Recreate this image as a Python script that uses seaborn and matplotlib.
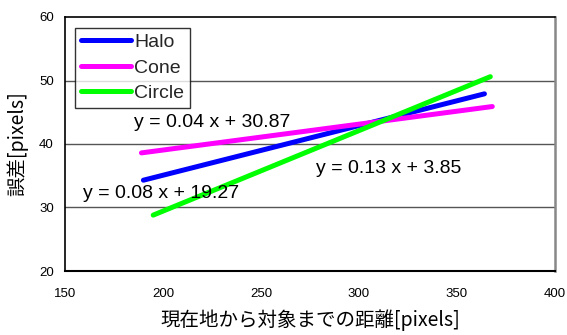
import matplotlib
matplotlib.use("Agg")
import matplotlib.pyplot as plt
import seaborn as sns
import pandas as pd

# ---- data ----
series = ["Halo", "Cone", "Circle"]
x_start = [190, 189, 195]
x_end = [364, 368, 367]
y_start = [34.3, 38.6, 28.8]
y_end = [47.9, 45.9, 50.6]
colors = ["#0000FF", "#FF00FF", "#00FF00"]
equations = ["y = 0.08 x + 19.27", "y = 0.04 x + 30.87", "y = 0.13 x + 3.85"]
eq_x = [159, 185, 278]
eq_y = [32.2, 43.4, 36.2]
x_ticks = [150, 200, 250, 300, 350, 400]
y_ticks = [20, 30, 40, 50, 60]
x_label = "現在地から対象までの距離[pixels]"
y_label = "誤差[pixels]"

rows = []
for s, xs, xe, ys, ye in zip(series, x_start, x_end, y_start, y_end):
    rows.append({"series": s, "x": xs, "y": ys})
    rows.append({"series": s, "x": xe, "y": ye})
df = pd.DataFrame(rows)

sns.set_theme(style="white")
plt.rcParams["font.family"] = ["Liberation Sans", "Noto Sans CJK JP", "DejaVu Sans"]

fig = plt.figure(figsize=(5.67, 3.35), dpi=100)
ax = fig.add_axes([65 / 567, 1 - 271 / 335, 490 / 567, 254 / 335])

sns.lineplot(data=df, x="x", y="y", hue="series", hue_order=series,
             palette=colors, linewidth=3.6, ax=ax, legend=True,
             solid_capstyle="round")

ax.set_xlim(150, 400)
ax.set_ylim(20, 60)
ax.set_xticks(x_ticks)
ax.set_yticks(y_ticks)
ax.tick_params(axis="x", direction="in", length=4, width=1, color="black",
               labelsize=9.5, pad=12)
ax.tick_params(axis="y", length=0, labelsize=9.5, pad=8)
for lab in ax.get_xticklabels() + ax.get_yticklabels():
    lab.set_color("black")

for yv in [30, 40, 50]:
    ax.axhline(yv, color="#555555", linewidth=1, zorder=0)

ax.spines["left"].set_color("black")
ax.spines["left"].set_linewidth(1.2)
ax.spines["bottom"].set_color("black")
ax.spines["bottom"].set_linewidth(1.5)
ax.spines["top"].set_color("black")
ax.spines["top"].set_linewidth(1.2)
ax.spines["right"].set_color("#888888")
ax.spines["right"].set_linewidth(1.8)

ax.set_xlabel(x_label, fontsize=14, labelpad=7, color="black",
              family=["Noto Sans CJK JP", "DejaVu Sans"])
ax.set_ylabel(y_label, fontsize=14, labelpad=8, color="black",
              family=["Noto Sans CJK JP", "DejaVu Sans"])

for t, xx, yy in zip(equations, eq_x, eq_y):
    ax.text(xx, yy, t, fontsize=14, ha="left", va="center", color="black")

leg = ax.legend(loc="upper left", bbox_to_anchor=(0.02, 0.958), frameon=True,
                fancybox=False, edgecolor="black", fontsize=14,
                handlelength=2.6, handletextpad=0.15, borderpad=0.3,
                labelspacing=0.4, borderaxespad=0)
leg.get_frame().set_linewidth(1.0)
for line in leg.get_lines():
    line.set_linewidth(3.6)

fig.savefig("out.png", dpi=100)
